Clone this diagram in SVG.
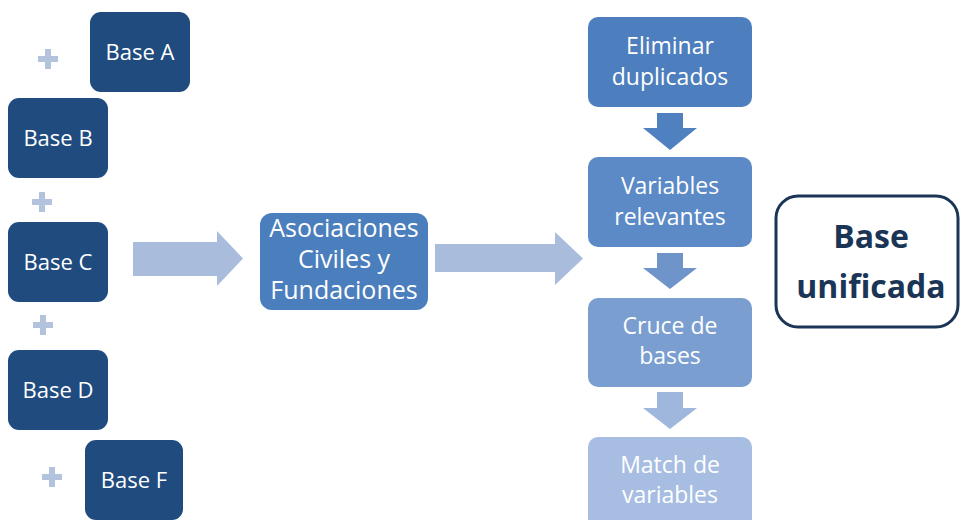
<svg xmlns="http://www.w3.org/2000/svg" width="960" height="520" viewBox="0 0 960 520">
<style>
.base{fill:#1f4b7f}
.t{font-family:"Open Sans","Liberation Sans",sans-serif;fill:#ffffff;text-anchor:middle}
.tb{font-size:22px}
.ts{font-size:23px}
.ta{font-size:25px}
.plus{fill:#b4c3dd}
.harrow{fill:#a9bcdb}
.u{font-family:"Open Sans","Liberation Sans",sans-serif;font-weight:bold;font-size:32px;fill:#1b3556;text-anchor:middle}
</style>
<rect width="960" height="520" fill="#ffffff"/>
<g id="connectors">
<path class="plus" d="M45,49h6v7h7v6h-7v7h-6v-7h-7v-6h7z"/>
<path class="plus" d="M39,192h6v7h7v6h-7v7h-6v-7h-7v-6h7z"/>
<path class="plus" d="M40,315h6v7h7v6h-7v7h-6v-7h-7v-6h7z"/>
<path class="plus" d="M49,467h6v7h7v6h-7v7h-6v-7h-7v-6h7z"/>
<path class="harrow" d="M133,242H217V231L243,258.5L217,286V276H133Z"/>
<path class="harrow" d="M435,244H555V232L583,258.5L555,285V272H435Z"/>
<path fill="#4f80c0" d="M657,113H683V128H697L670,150L643,128H657Z"/>
<path fill="#6f94ca" d="M657,253H683V268H697L670,289L643,268H657Z"/>
<path fill="#9fb6dd" d="M657,392H683V408H697L670,429L643,408H657Z"/>
</g>
<g id="baseA"><rect class="base" x="90" y="12" width="100" height="80" rx="11"/><text class="t tb" x="140" y="60">Base A</text></g>
<g id="baseB"><rect class="base" x="8" y="98" width="100" height="80" rx="11"/><text class="t tb" x="58" y="146">Base B</text></g>
<g id="baseC"><rect class="base" x="8" y="222" width="100" height="80" rx="11"/><text class="t tb" x="58" y="270">Base C</text></g>
<g id="baseD"><rect class="base" x="8" y="350" width="100" height="80" rx="11"/><text class="t tb" x="58" y="398">Base D</text></g>
<g id="baseF"><rect class="base" x="85" y="440" width="98" height="80" rx="11"/><text class="t tb" x="134" y="488">Base F</text></g>
<g id="asoc"><rect x="260" y="213" width="168" height="97" rx="12" fill="#4b7ebd"/>
<text class="t ta" x="344" y="237">Asociaciones</text><text class="t ta" x="344" y="268">Civiles y</text><text class="t ta" x="344" y="299">Fundaciones</text></g>
<g id="elim"><rect x="588" y="17" width="164" height="90" rx="10" fill="#4d7ebd"/>
<text class="t ts" x="670" y="54">Eliminar</text><text class="t ts" x="670" y="85">duplicados</text></g>
<g id="vars"><rect x="588" y="157" width="164" height="90" rx="10" fill="#5b8ac6"/>
<text class="t ts" x="670" y="194">Variables</text><text class="t ts" x="670" y="225">relevantes</text></g>
<g id="cruce"><rect x="588" y="298" width="164" height="89" rx="10" fill="#7b9ed1"/>
<text class="t ts" x="670" y="334">Cruce de</text><text class="t ts" x="670" y="364">bases</text></g>
<g id="match"><rect x="588" y="437" width="164" height="95" rx="10" fill="#a7bde1"/>
<text class="t ts" x="670" y="473">Match de</text><text class="t ts" x="670" y="503">variables</text></g>
<g id="unif"><rect x="776" y="196" width="182" height="131" rx="22" fill="#ffffff" stroke="#1b3556" stroke-width="3"/>
<text class="u" x="871" y="248">Base</text>
<text class="u" x="871" y="298">unificada</text></g>
</svg>
